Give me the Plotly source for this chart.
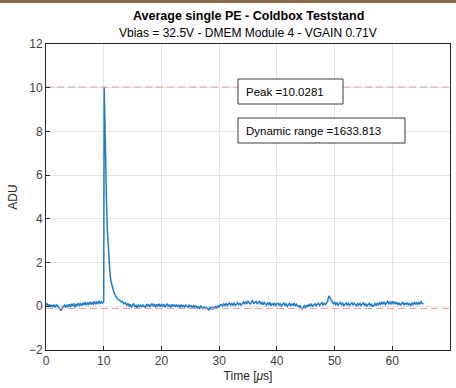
import plotly.graph_objects as go

# ---------------- data ----------------
# pre-pulse baseline, samples every 0.2 us from t = 0
pre_t0, pre_dt = 0.0, 0.2
pre_adu = [
    0.05, 0.12, 0.00, 0.09, -0.04, 0.07, -0.02, 0.05, -0.05, 0.06,
    0.02, -0.06, -0.09, -0.20, -0.07, -0.02, 0.05, -0.07, 0.07, -0.01,
    0.09, -0.03, 0.11, 0.02, 0.13, -0.05, 0.10, 0.01, 0.15, 0.04,
    0.11, 0.03, 0.16, 0.06, 0.19, 0.05, 0.15, 0.09, 0.21, 0.08,
    0.17, 0.11, 0.23, 0.09, 0.19, 0.13, 0.25, 0.11, 0.21, 0.15,
]
# pulse region (explicit times)
pulse_t = [10.0, 10.08, 10.2, 10.35, 10.5, 10.65, 10.8, 10.95, 11.1, 11.3,
           11.5, 11.75, 12.0, 12.25, 12.5, 12.75, 13.0, 13.25, 13.5, 13.75,
           14.0, 14.2]
pulse_adu = [0.2, 10.0281, 8.2, 6.2, 4.6, 3.4, 2.5, 1.9, 1.45, 1.1,
             0.85, 0.65, 0.5, 0.42, 0.3, 0.28, 0.2, 0.22, 0.12, 0.16,
             0.05, 0.12]
# post-pulse baseline, samples every 0.2 us from t = 14.4
post_t0, post_dt = 14.4, 0.2
post_adu = [
    0.02, 0.09, -0.05, 0.06, 0.11, -0.03, 0.04, -0.07, 0.07, -0.01,
    0.05, -0.04, 0.08, 0.00, -0.06, 0.07, 0.01, 0.10, -0.03, 0.06,
    0.13, 0.00, 0.07, -0.05, 0.09, 0.02, 0.11, -0.02, 0.08, 0.01,
    0.10, -0.04, 0.06, 0.12, -0.01, 0.07, -0.05, 0.09, 0.01, 0.06,
    -0.03, 0.08, 0.00, 0.05, -0.06, 0.07, -0.01, 0.04, -0.04, 0.06,
    0.00, -0.05, 0.05, -0.02, 0.03, -0.07, 0.04, -0.04, 0.01, -0.08,
    -0.02, -0.09, 0.01, -0.06, -0.11, -0.02, -0.13, -0.05, -0.10, -0.17,
    -0.06, -0.12, -0.03, -0.14, -0.05, -0.01, -0.09, 0.03, -0.05, 0.07,
    0.09, 0.01, 0.11, 0.04, 0.13, 0.03, 0.10, 0.15, 0.05, 0.12,
    0.06, 0.14, 0.04, 0.11, 0.16, 0.07, 0.13, 0.05, 0.15, 0.19,
    0.10, 0.21, 0.13, 0.23, 0.15, 0.11, 0.20, 0.25, 0.14, 0.19,
    0.22, 0.12, 0.18, 0.23, 0.09, 0.17, 0.07, 0.20, 0.11, 0.05,
    0.15, 0.08, 0.18, 0.03, 0.12, 0.06, 0.16, 0.02, 0.11, 0.14,
    0.05, 0.13, 0.01, 0.10, 0.15, 0.04, 0.11, 0.00, 0.09, 0.13,
    0.03, 0.11, 0.05, 0.14, 0.01, 0.09, 0.02, -0.03, 0.05, -0.09,
    -0.13, -0.03, 0.03, -0.07, 0.06, -0.01, 0.08, 0.02, 0.10, 0.00,
    0.07, 0.12, 0.03, 0.09, 0.15, 0.04, 0.11, 0.17, 0.06, 0.13,
    0.08, 0.16, 0.22, 0.48, 0.36, 0.25, 0.20, 0.11, 0.19, 0.08,
    0.15, 0.05, 0.13, 0.18, 0.07, 0.14, 0.03, 0.12, 0.16, 0.06,
    0.13, 0.04, 0.11, 0.17, 0.05, 0.14, 0.08, 0.02, 0.12, 0.06,
    0.13, 0.03, 0.10, 0.15, 0.05, 0.11, 0.01, 0.09, 0.14, 0.04,
    0.10, -0.03, 0.07, 0.12, 0.03, 0.13, 0.07, 0.16, 0.09, 0.18,
    0.11, 0.20, 0.08, 0.17, 0.22, 0.12, 0.19, 0.09, 0.23, 0.13,
    0.21, 0.10, 0.18, 0.07, 0.16, 0.04, 0.13, 0.19, 0.06, 0.14,
    0.09, 0.17, 0.05, 0.13, 0.01, 0.15, 0.08, 0.18, 0.10, 0.16,
    0.07, 0.19, 0.11, 0.21, 0.13, 0.10,
]
peak_level = 10.0281
baseline_level = -0.1
dynamic_range = 1633.813

x_ticks = [0, 10, 20, 30, 40, 50, 60, 70]
y_ticks = [-2, 0, 2, 4, 6, 8, 10, 12]

# ---------------- assemble ----------------
t = ([round(pre_t0 + i * pre_dt, 3) for i in range(len(pre_adu))]
     + pulse_t
     + [round(post_t0 + i * post_dt, 3) for i in range(len(post_adu))])
adu = pre_adu + pulse_adu + post_adu

FONT = "Liberation Sans, Arial, Helvetica, sans-serif"
AX = "#262626"

fig = go.Figure()
fig.add_trace(go.Scatter(x=t, y=adu, mode="lines",
                         line=dict(color="#1f7cc4", width=1.5),
                         showlegend=False, hoverinfo="skip"))
for lvl in (peak_level, baseline_level):
    fig.add_trace(go.Scatter(x=[0, 70], y=[lvl, lvl], mode="lines",
                             line=dict(color="#f19a9a", width=1, dash="7px,4px"),
                             showlegend=False, hoverinfo="skip"))

axis_common = dict(showline=True, mirror=True, linecolor=AX, linewidth=1,
                   ticks="inside", ticklen=4, tickcolor=AX,
                   showgrid=True, gridcolor="#e4e4e4", gridwidth=1,
                   zeroline=False,
                   tickfont=dict(family=FONT, size=12, color="#404040"))

fig.update_xaxes(range=[0, 70], tickvals=x_ticks, **axis_common)
fig.update_yaxes(range=[-2, 12], tickvals=y_ticks, **axis_common)
fig.update_xaxes(title=dict(text="Time [<i>μ</i>s]", standoff=4,
                            font=dict(family=FONT, size=12, color=AX)))
fig.update_yaxes(title=dict(text="ADU", standoff=8,
                            font=dict(family=FONT, size=12, color=AX)))

W, H = 456, 388
L, R, T, B = 46, 6, 44, 38
pw, ph = W - L - R, H - T - B

def px(xp):
    return (xp - L) / pw

def py(yp):
    return (H - B - yp) / ph

shapes = [
    dict(type="rect", xref="paper", yref="paper", x0=px(238), x1=px(343),
         y0=py(104), y1=py(79), line=dict(color="#3a3a3a", width=1),
         fillcolor="white", layer="above"),
    dict(type="rect", xref="paper", yref="paper", x0=px(238), x1=px(405),
         y0=py(143), y1=py(118), line=dict(color="#3a3a3a", width=1),
         fillcolor="white", layer="above"),
    dict(type="rect", xref="paper", yref="paper", x0=px(0), x1=px(456),
         y0=py(3), y1=py(0), line=dict(width=0),
         fillcolor="#8a6a4a", layer="above"),
]

annotations = [
    dict(text="Average single PE - Coldbox Teststand", xref="paper", yref="paper",
         x=0.5, y=py(16), xanchor="center", yanchor="middle", showarrow=False,
         font=dict(family=FONT, size=12.5, color="black", weight="bold")),
    dict(text="Vbias = 32.5V - DMEM Module 4 - VGAIN 0.71V", xref="paper", yref="paper",
         x=0.5, y=py(33), xanchor="center", yanchor="middle", showarrow=False,
         font=dict(family=FONT, size=12, color="black")),
    dict(text=f"Peak ={peak_level}", xref="paper", yref="paper",
         x=px(244), y=py(91.5), xanchor="left", yanchor="middle", showarrow=False,
         font=dict(family=FONT, size=11.5, color="black")),
    dict(text=f"Dynamic range ={dynamic_range}", xref="paper", yref="paper",
         x=px(244), y=py(130.5), xanchor="left", yanchor="middle", showarrow=False,
         font=dict(family=FONT, size=11.5, color="black")),
]

fig.update_layout(width=W, height=H, margin=dict(l=L, r=R, t=T, b=B),
                  paper_bgcolor="white", plot_bgcolor="white",
                  shapes=shapes, annotations=annotations)

fig.write_html("out.html")
